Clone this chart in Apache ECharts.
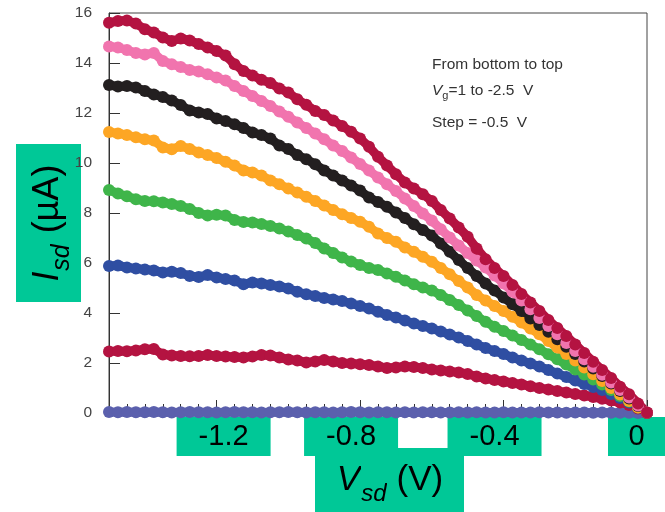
<!DOCTYPE html>
<html><head><meta charset="utf-8">
<script src="https://cdn.jsdelivr.net/npm/echarts@6/dist/echarts.min.js"></script>
<style>html,body{margin:0;padding:0;background:#fff}#c{width:665px;height:512px}</style>
</head><body><div id="c"></div>
<script>
// Source-drain voltage (V)
const vsd = [-1.500,-1.475,-1.450,-1.425,-1.400,-1.375,-1.350,-1.325,-1.300,-1.275,
  -1.250,-1.225,-1.200,-1.175,-1.150,-1.125,-1.100,-1.075,-1.050,-1.025,
  -1.000,-0.975,-0.950,-0.925,-0.900,-0.875,-0.850,-0.825,-0.800,-0.775,
  -0.750,-0.725,-0.700,-0.675,-0.650,-0.625,-0.600,-0.575,-0.550,-0.525,
  -0.500,-0.475,-0.450,-0.425,-0.400,-0.375,-0.350,-0.325,-0.300,-0.275,
  -0.250,-0.225,-0.200,-0.175,-0.150,-0.125,-0.100,-0.075,-0.050,-0.025,0.000];

// Isd (µA) for each gate voltage, bottom to top
const isdVg1p0 = [0.04,0.03,0.04,0.03,0.03,0.04,0.03,0.02,0.03,0.04,
  0.03,0.03,0.02,0.03,0.04,0.03,0.03,0.02,0.03,0.03,
  0.04,0.03,0.02,0.03,0.03,0.02,0.03,0.04,0.03,0.02,
  0.03,0.03,0.02,0.03,0.02,0.03,0.03,0.02,0.02,0.03,
  0.02,0.03,0.02,0.02,0.03,0.02,0.02,0.02,0.03,0.02,
  0.02,0.01,0.02,0.02,0.01,0.02,0.01,0.01,0.01,0.00,0.00];
const isdVg0p5 = [2.46,2.48,2.47,2.50,2.55,2.56,2.34,2.30,2.28,2.27,
  2.28,2.32,2.28,2.26,2.24,2.22,2.26,2.32,2.30,2.22,
  2.14,2.10,2.02,2.06,2.12,2.06,2.00,1.98,1.95,1.92,
  1.86,1.80,1.82,1.86,1.84,1.80,1.74,1.70,1.66,1.62,
  1.56,1.46,1.38,1.32,1.26,1.20,1.14,1.07,1.00,0.94,
  0.88,0.82,0.76,0.70,0.64,0.57,0.50,0.42,0.32,0.18,0.00];
const isdVg0p0 = [5.88,5.90,5.82,5.78,5.74,5.70,5.62,5.65,5.60,5.48,
  5.44,5.52,5.42,5.36,5.30,5.15,5.22,5.18,5.12,5.06,
  4.98,4.85,4.75,4.68,4.60,4.54,4.48,4.38,4.28,4.18,
  4.05,3.92,3.82,3.70,3.58,3.48,3.38,3.26,3.14,3.02,
  2.88,2.74,2.60,2.48,2.36,2.22,2.10,1.98,1.86,1.72,
  1.58,1.44,1.30,1.16,1.04,0.92,0.76,0.60,0.42,0.22,0.01];
const isdVgm0p5 = [8.92,8.78,8.67,8.55,8.48,8.47,8.42,8.36,8.28,8.16,
  8.00,7.90,7.93,7.90,7.72,7.64,7.62,7.56,7.48,7.38,
  7.26,7.12,6.98,6.80,6.58,6.40,6.22,6.06,5.92,5.80,
  5.72,5.58,5.45,5.30,5.15,5.02,4.90,4.72,4.52,4.32,
  4.10,3.88,3.65,3.45,3.28,3.10,2.92,2.74,2.55,2.35,
  2.15,1.94,1.74,1.54,1.34,1.14,0.92,0.68,0.46,0.22,0.01];
const isdVgm1p0 = [11.24,11.18,11.12,11.03,10.95,10.90,10.62,10.55,10.68,10.56,
  10.42,10.32,10.20,10.05,9.90,9.70,9.62,9.50,9.30,9.15,
  8.98,8.82,8.65,8.48,8.30,8.12,7.95,7.80,7.65,7.45,
  7.18,7.00,6.85,6.62,6.45,6.25,6.05,5.80,5.55,5.28,
  5.02,4.72,4.50,4.28,4.08,3.85,3.62,3.38,3.15,2.88,
  2.62,2.36,2.10,1.82,1.55,1.28,1.00,0.74,0.48,0.22,0.01];
const isdVgm1p5 = [13.12,13.06,13.08,13.02,12.88,12.74,12.64,12.50,12.32,12.10,
  12.02,11.96,11.78,11.68,11.55,11.40,11.22,11.12,10.98,10.70,
  10.56,10.32,10.15,9.95,9.70,9.50,9.30,9.10,8.90,8.62,
  8.44,8.25,8.02,7.80,7.55,7.32,7.10,6.78,6.45,6.12,
  5.80,5.48,5.18,4.90,4.62,4.35,4.08,3.78,3.52,3.25,
  2.95,2.65,2.36,2.06,1.78,1.48,1.18,0.88,0.58,0.28,0.01];
const isdVgm2p0 = [14.66,14.62,14.52,14.40,14.34,14.40,14.08,13.95,13.84,13.72,
  13.66,13.55,13.42,13.30,13.08,12.88,12.68,12.48,12.28,12.06,
  11.85,11.62,11.40,11.18,10.95,10.70,10.48,10.22,9.96,9.70,
  9.42,9.15,8.88,8.58,8.28,7.98,7.70,7.35,7.02,6.70,
  6.40,6.10,5.82,5.50,5.18,4.85,4.50,4.15,3.80,3.48,
  3.15,2.80,2.48,2.15,1.85,1.53,1.22,0.92,0.62,0.30,0.02];
const isdVgm2p5 = [15.61,15.68,15.70,15.58,15.35,15.22,15.02,14.88,14.98,14.90,
  14.76,14.62,14.48,14.30,13.95,13.68,13.50,13.33,13.20,12.98,
  12.82,12.55,12.33,12.08,11.92,11.70,11.48,11.25,10.98,10.65,
  10.25,9.90,9.55,9.22,8.98,8.75,8.48,8.12,7.78,7.42,
  7.05,6.58,6.15,5.80,5.48,5.12,4.76,4.42,4.08,3.72,
  3.40,3.08,2.74,2.40,2.05,1.72,1.40,1.05,0.75,0.38,0.02];

const seriesNames = ['Vg = 1 V','Vg = 0.5 V','Vg = 0 V','Vg = -0.5 V','Vg = -1 V','Vg = -1.5 V','Vg = -2 V','Vg = -2.5 V'];
const seriesValues = [isdVg1p0, isdVg0p5, isdVg0p0, isdVgm0p5, isdVgm1p0, isdVgm1p5, isdVgm2p0, isdVgm2p5];
const seriesColors = ['#5b60ad','#b41341','#2f4ea2','#3fb54a','#fda624','#231f20','#f174ae','#b41341'];

const xTickValues = [-1.2, -0.8, -0.4, 0];
const xTickLabels = ['-1.2', '-0.8', '-0.4', '0'];
const yTickLabels = ['0','2','4','6','8','10','12','14','16'];
const noteLines = ['From bottom to top', '=1 to -2.5  V', 'Step = -0.5  V'];

const G = '#00c897';
const FF = 'Liberation Sans, Arial, sans-serif';

function xLabel(v) {
  const i = xTickValues.findIndex(t => Math.abs(t - v) < 1e-6);
  if (i < 0) return '';
  const s = xTickLabels[i];
  if (i === 0) return '{sp14|}{b|' + s + '}';
  if (i === 3) return '{z|' + s + '}{sp21|}';
  return '{b|' + s + '}{sp18|}';
}

const chart = echarts.init(document.getElementById('c'), null, {renderer: 'canvas'});
chart.setOption({
  animation: false,
  backgroundColor: '#fff',
  grid: {left: 109, right: 18, top: 13, bottom: 99, show: true, borderColor: '#444', borderWidth: 1,
         containLabel: false, outerBoundsMode: 'none'},
  xAxis: [{
    type: 'value', min: -1.5, max: 0, position: 'bottom',
    axisLine: {show: true, onZero: false, lineStyle: {color: '#333', width: 1}},
    axisTick: {show: true, inside: true, length: 13, customValues: xTickValues, lineStyle: {color: '#333'}},
    axisLabel: {
      show: true, margin: 4, customValues: xTickValues, formatter: xLabel,
      rich: {
        b: {backgroundColor: G, width: 94, height: 39, align: 'center', fontSize: 29, color: '#000', fontFamily: FF},
        z: {backgroundColor: G, width: 57, height: 39, align: 'center', fontSize: 29, color: '#000', fontFamily: FF},
        sp14: {width: 14, height: 39},
        sp18: {width: 18, height: 39},
        sp21: {width: 21, height: 39}
      }
    },
    splitLine: {show: false},
    name: '{sp|}{v|V}{s|sd}{t| (V)}',
    nameLocation: 'middle', nameGap: 35, nameMoveOverlap: false,
    nameTextStyle: {
      rich: {
        sp: {width: 23, height: 64},
        v: {backgroundColor: G, fontSize: 35, fontStyle: 'italic', fontFamily: FF, color: '#000', width: 25, height: 40, padding: [12, 0, 12, 21]},
        s: {backgroundColor: G, fontSize: 24, fontStyle: 'italic', fontFamily: FF, color: '#000', width: 26, height: 28, padding: [32, 0, 4, 0]},
        t: {backgroundColor: G, fontSize: 35, fontFamily: FF, color: '#000', width: 56, height: 40, padding: [12, 21, 12, 0]}
      }
    }
  }, {
    type: 'value', min: -1.5, max: 0, interval: 0.05, position: 'bottom',
    axisLine: {show: false, onZero: false},
    axisTick: {show: true, inside: true, length: 9, lineStyle: {color: '#333'}},
    axisLabel: {show: false},
    splitLine: {show: false}
  }],
  yAxis: {
    type: 'value', min: 0, max: 16, interval: 2,
    axisLine: {show: true, onZero: false, lineStyle: {color: '#333', width: 1}},
    axisTick: {show: true, inside: true, length: 11, lineStyle: {color: '#333'}},
    axisLabel: {margin: 17, fontSize: 15.5, color: '#444', fontFamily: FF,
      formatter: v => yTickLabels[Math.round(v / 2)]},
    splitLine: {show: false},
    name: '{v|I}{s|sd}{t| (µA)}{sp|}',
    nameLocation: 'middle', nameRotate: 90, nameGap: 28, nameMoveOverlap: false,
    nameTextStyle: {
      rich: {
        sp: {width: 20, height: 65},
        v: {backgroundColor: G, fontSize: 36, fontStyle: 'italic', fontFamily: FF, color: '#000', width: 11, height: 40, padding: [12, 0, 13, 20]},
        s: {backgroundColor: G, fontSize: 25, fontStyle: 'italic', fontFamily: FF, color: '#000', width: 27, height: 28, padding: [32, 0, 5, 0]},
        t: {backgroundColor: G, fontSize: 36, fontFamily: FF, color: '#000', width: 80, height: 40, padding: [12, 20, 13, 0]}
      }
    }
  },
  graphic: [
    {type: 'text', left: 432, top: 57, z: 100,
     style: {text: noteLines[0], fontSize: 15.5, fontFamily: FF, fill: '#333'}},
    {type: 'text', left: 432, top: 83, z: 100,
     style: {text: '{i|V}{g|g}{n|' + noteLines[1] + '}', fill: '#333',
       rich: {
         i: {fontSize: 15.5, fontStyle: 'italic', fontFamily: FF, fill: '#333', color: '#333'},
         g: {fontSize: 11, fontFamily: FF, fill: '#333', color: '#333', padding: [9, 0, 0, 0]},
         n: {fontSize: 15.5, fontFamily: FF, fill: '#333', color: '#333'}
       }}},
    {type: 'text', left: 432, top: 115, z: 100,
     style: {text: noteLines[2], fontSize: 15.5, fontFamily: FF, fill: '#333'}}
  ],
  series: seriesValues.map((vals, i) => ({
    name: seriesNames[i],
    type: 'line',
    xAxisIndex: 0,
    clip: false,
    smooth: false,
    showSymbol: true,
    symbol: 'circle',
    symbolSize: 12,
    lineStyle: {color: seriesColors[i], width: 9, cap: 'round', join: 'round'},
    itemStyle: {color: seriesColors[i], opacity: 1},
    emphasis: {disabled: true},
    data: vsd.map((x, k) => [x, vals[k]])
  }))
});
</script>
</body></html>
